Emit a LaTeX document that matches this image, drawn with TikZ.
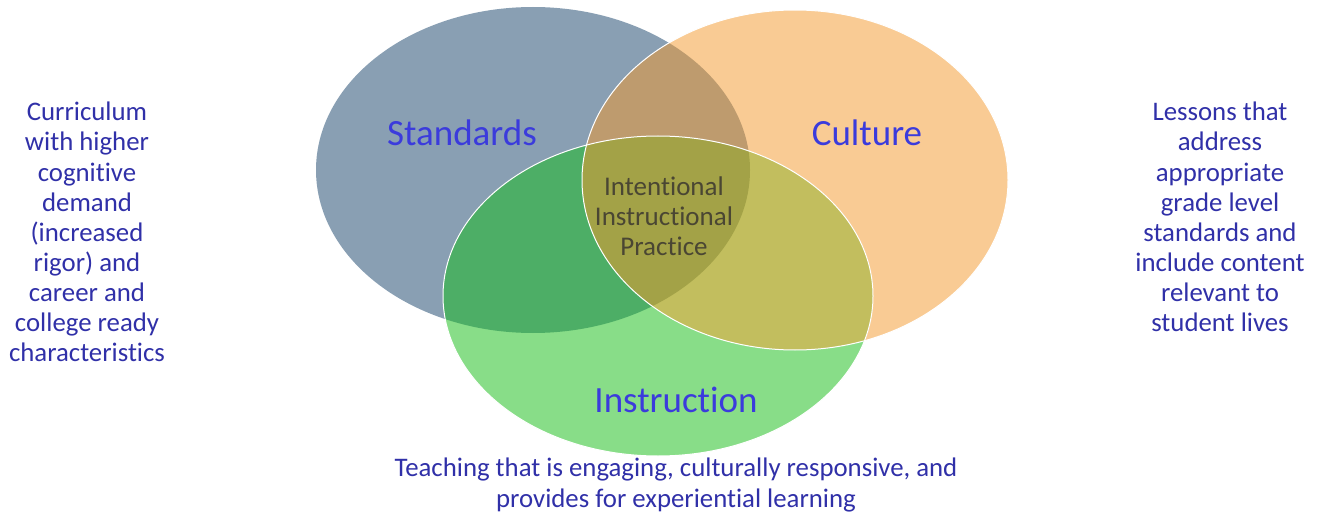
\documentclass[tikz,border=0pt]{standalone}
\usepackage{fontspec}
\setmainfont{Carlito}[Ligatures=NoCommon]

\definecolor{stdblue}{HTML}{899FB3}
\definecolor{culorange}{HTML}{F9CB94}
\definecolor{insgreen}{HTML}{88DD88}
\definecolor{stdcul}{HTML}{BE9B6E}
\definecolor{stdins}{HTML}{4DAE66}
\definecolor{culins}{HTML}{C2BE5E}
\definecolor{allthree}{HTML}{A3A247}
\definecolor{labelblue}{HTML}{3B3BDC}
\definecolor{sideblue}{HTML}{3030A8}
\definecolor{midtext}{HTML}{4A4633}

\newcommand{\stdpath}{(533,170) ellipse [x radius=217, y radius=163]}
\newcommand{\culpath}{(795,180) ellipse [x radius=213, y radius=170]}
\newcommand{\inspath}{(658,296) ellipse [x radius=215, y radius=160]}

\begin{document}
\begin{tikzpicture}[x=1pt,y=-1pt,
    biglabel/.style={font=\fontsize{37}{44}\selectfont, text=labelblue},
    sidetext/.style={font=\fontsize{26.8}{30.1}\selectfont, text=sideblue, align=center},
    midlabel/.style={font=\fontsize{27}{30}\selectfont, text=midtext, align=center},
    rim/.style={draw=white, line width=1pt}]
  \useasboundingbox (0,0) rectangle (1318,516);

  \fill[stdblue]   \stdpath;
  \fill[culorange] \culpath;
  \fill[insgreen]  \inspath;
  \begin{scope}
    \clip \stdpath;
    \fill[stdcul] \culpath; % standards ^ culture
    \fill[stdins] \inspath; % standards ^ instruction
  \end{scope}
  \begin{scope}
    \clip \culpath;
    \fill[culins] \inspath; % culture ^ instruction
    \clip \stdpath;
    \fill[allthree] \inspath; % all three
  \end{scope}
  \draw[rim] \culpath;
  \draw[rim] \inspath;

  \node[biglabel] (standards)   at (462,133) {Standards};
  \node[biglabel] (culture)     at (867,133) {Culture};
  \node[biglabel] (instruction) at (676,400) {Instruction};
  \node[midlabel] (practice)    at (664,216) {Intentional\\Instructional\\Practice};

  \node[sidetext] (curriculum) at (87,232)  {Curriculum\\with higher\\cognitive\\demand\\(increased\\rigor) and\\career and\\college ready\\characteristics};
  \node[sidetext] (lessons)    at (1220,217) {Lessons that\\address\\appropriate\\grade level\\standards and\\include content\\relevant to\\student lives};
  \node[sidetext] (teaching)   at (676,485) {Teaching that is engaging, culturally responsive, and\\provides for experiential learning};
\end{tikzpicture}
\end{document}
